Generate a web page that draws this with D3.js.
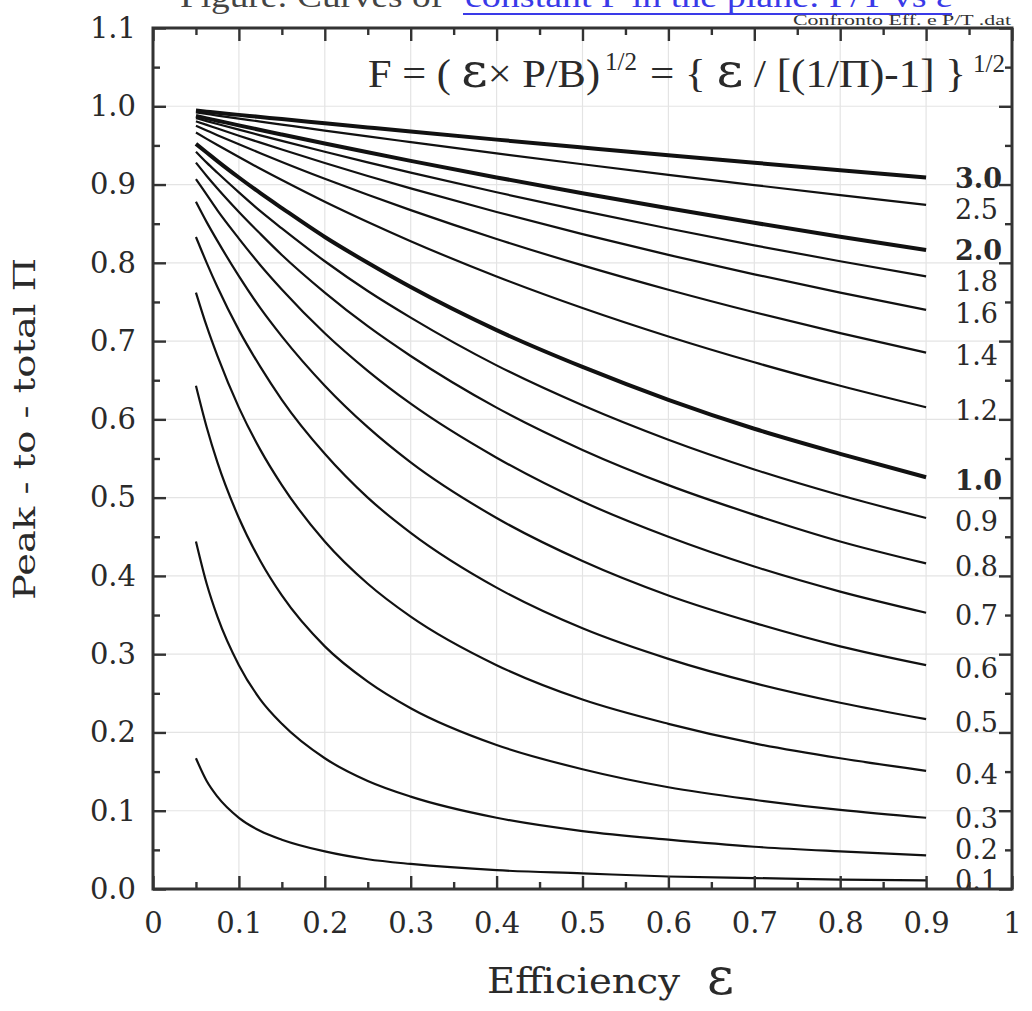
<!DOCTYPE html>
<html><head><meta charset="utf-8">
<script src="https://cdn.jsdelivr.net/npm/d3@7"></script>
<style>html,body{margin:0;padding:0;background:#fff;} svg{display:block;}</style>
</head><body>
<svg id="chart" width="1032" height="1011"></svg>
<script>
// Efficiency values (x) at which each curve was read
const epsilon = [0.05, 0.0625, 0.075, 0.1, 0.125, 0.15, 0.2, 0.25, 0.3, 0.4, 0.5, 0.6, 0.7, 0.8, 0.9];
// Peak-to-total values read for each curve of constant F
const piF01 = [0.167, 0.138, 0.118, 0.091, 0.074, 0.063, 0.048, 0.038, 0.032, 0.024, 0.020, 0.016, 0.014, 0.012, 0.011];
const piF02 = [0.444, 0.390, 0.348, 0.286, 0.242, 0.211, 0.167, 0.138, 0.118, 0.091, 0.074, 0.063, 0.054, 0.048, 0.043];
const piF03 = [0.643, 0.590, 0.545, 0.474, 0.419, 0.375, 0.310, 0.265, 0.231, 0.184, 0.153, 0.130, 0.114, 0.101, 0.091];
const piF04 = [0.762, 0.719, 0.681, 0.615, 0.561, 0.516, 0.444, 0.390, 0.348, 0.286, 0.242, 0.211, 0.186, 0.167, 0.151];
const piF05 = [0.833, 0.800, 0.769, 0.714, 0.667, 0.625, 0.556, 0.500, 0.455, 0.385, 0.333, 0.294, 0.263, 0.238, 0.217];
const piF06 = [0.878, 0.852, 0.828, 0.783, 0.742, 0.706, 0.643, 0.590, 0.545, 0.474, 0.419, 0.375, 0.340, 0.310, 0.286];
const piF07 = [0.907, 0.887, 0.867, 0.831, 0.797, 0.766, 0.710, 0.662, 0.620, 0.551, 0.495, 0.450, 0.412, 0.380, 0.353];
const piF08 = [0.928, 0.911, 0.895, 0.865, 0.837, 0.810, 0.762, 0.719, 0.681, 0.615, 0.561, 0.516, 0.478, 0.444, 0.416];
const piF09 = [0.942, 0.928, 0.915, 0.890, 0.866, 0.844, 0.802, 0.764, 0.730, 0.669, 0.618, 0.574, 0.536, 0.503, 0.474];
const piF10 = [0.952, 0.941, 0.930, 0.909, 0.889, 0.870, 0.833, 0.800, 0.769, 0.714, 0.667, 0.625, 0.588, 0.556, 0.526];
const piF12 = [0.9664, 0.9584, 0.9505, 0.9351, 0.9201, 0.9057, 0.8780, 0.8521, 0.8276, 0.7826, 0.7423, 0.7059, 0.6729, 0.6429, 0.6154];
const piF14 = [0.9751, 0.9691, 0.9631, 0.9515, 0.9401, 0.9289, 0.9074, 0.8869, 0.8673, 0.8305, 0.7967, 0.7656, 0.7368, 0.7101, 0.6853];
const piF16 = [0.9808, 0.9762, 0.9715, 0.9624, 0.9535, 0.9447, 0.9275, 0.9110, 0.8951, 0.8649, 0.8366, 0.8101, 0.7853, 0.7619, 0.7399];
const piF18 = [0.9848, 0.9811, 0.9774, 0.9701, 0.9629, 0.9558, 0.9419, 0.9284, 0.9153, 0.8901, 0.8663, 0.8438, 0.8223, 0.8020, 0.7826];
const piF20 = [0.9877, 0.9846, 0.9816, 0.9756, 0.9697, 0.9639, 0.9524, 0.9412, 0.9302, 0.9091, 0.8889, 0.8696, 0.8511, 0.8333, 0.8163];
const piF25 = [0.9921, 0.9901, 0.9881, 0.9843, 0.9804, 0.9766, 0.9690, 0.9615, 0.9542, 0.9398, 0.9259, 0.9124, 0.8993, 0.8865, 0.8741];
const piF30 = [0.9945, 0.9931, 0.9917, 0.9890, 0.9863, 0.9836, 0.9783, 0.9730, 0.9677, 0.9574, 0.9474, 0.9375, 0.9278, 0.9184, 0.9091];

const curveLabels = ["0.1","0.2","0.3","0.4","0.5","0.6","0.7","0.8","0.9","1.0","1.2","1.4","1.6","1.8","2.0","2.5","3.0"];
const boldCurves = ["1.0","2.0","3.0"];

const xTickValues = [0,0.1,0.2,0.3,0.4,0.5,0.6,0.7,0.8,0.9,1];
const xTickLabels = ["0","0.1","0.2","0.3","0.4","0.5","0.6","0.7","0.8","0.9","1"];
const xMinorTicks = [0.05,0.15,0.25,0.35,0.45,0.55,0.65,0.75,0.85,0.95];
const yTickValues = [0,0.1,0.2,0.3,0.4,0.5,0.6,0.7,0.8,0.9,1.0,1.1];
const yTickLabels = ["0.0","0.1","0.2","0.3","0.4","0.5","0.6","0.7","0.8","0.9","1.0","1.1"];
const yMinorTicks = [0.05,0.15,0.25,0.35,0.45,0.55,0.65,0.75,0.85,0.95,1.05];

const xTitle = "Efficiency";
const xSymbol = "ε";
const yTitle = "Peak - to - total  Π";
const topTitleA = "Figure: Curves of";
const topTitleB = "constant F in the plane: P/T vs ε";
const fileNote = "Confronto Eff. e P/T .dat";

const allCurves = [piF01,piF02,piF03,piF04,piF05,piF06,piF07,piF08,piF09,piF10,piF12,piF14,piF16,piF18,piF20,piF25,piF30];
const series = curveLabels.map((lab,i)=>({label:lab, values:allCurves[i], bold:boldCurves.includes(lab)}));

const W = 1032, H = 1011;
const m = {left:153, right:20, top:28, bottom:122};
const svg = d3.select("#chart");
const x = d3.scaleLinear().domain([0,1]).range([m.left, W-m.right]);
const y = d3.scaleLinear().domain([0,1.1]).range([H-m.bottom, m.top]);
const serif = "'DejaVu Serif', serif";
const times = "'Liberation Serif', 'Times New Roman', serif";
const ink = "#2a2a2a";

// grid
svg.append("g").selectAll("line").data(xTickValues.slice(1,-1)).join("line")
  .attr("x1",d=>x(d)).attr("x2",d=>x(d)).attr("y1",y(0)).attr("y2",y(1.1))
  .attr("stroke","#e4e4e4").attr("stroke-width",1.2);
svg.append("g").selectAll("line").data(yTickValues.slice(1,-1)).join("line")
  .attr("y1",d=>y(d)).attr("y2",d=>y(d)).attr("x1",x(0)).attr("x2",x(1))
  .attr("stroke","#e4e4e4").attr("stroke-width",1.2);

// curves
const line = d3.line().x((d,i)=>x(epsilon[i])).y(d=>y(d)).curve(d3.curveMonotoneX);
svg.append("g").selectAll("path").data(series).join("path")
  .attr("d",d=>line(d.values)).attr("fill","none")
  .attr("stroke","#111").attr("stroke-width",d=>d.bold?4:2.2);

// curve labels: placed next to curve ends, spread apart when crowded
const labelPos = series.map(d=>y(d.values[d.values.length-1])+3);
const minGap = 31, maxY = y(0)-9;
for (let it=0; it<80; it++){
  for (let i=0; i<labelPos.length-1; i++){
    const gap = labelPos[i] - labelPos[i+1];
    if (gap < minGap){
      const s = (minGap-gap)/2;
      labelPos[i] += s; labelPos[i+1] -= s;
    }
  }
  for (let i=0;i<labelPos.length;i++) labelPos[i] = Math.min(labelPos[i], maxY);
}
svg.append("g").selectAll("text").data(series).join("text")
  .attr("x",955).attr("y",(d,i)=>labelPos[i])
  .attr("dy","0.36em")
  .attr("font-family",serif).attr("font-size",27)
  .attr("font-weight",d=>d.bold?"bold":"normal")
  .attr("fill",ink).text(d=>d.label);

// axes helper
function styleAxis(g){
  g.select(".domain").remove();
  g.selectAll(".tick line").attr("stroke","#333").attr("stroke-width",2.4);
  g.selectAll(".tick text").attr("font-family",serif).attr("font-size",29).attr("fill",ink);
}
svg.append("g").attr("transform",`translate(0,${y(0)})`)
  .call(d3.axisBottom(x).tickValues(xTickValues).tickFormat((d,i)=>xTickLabels[i]).tickSizeInner(-13).tickSizeOuter(0).tickPadding(23))
  .call(styleAxis);
svg.append("g").attr("transform",`translate(0,${y(0)})`)
  .call(d3.axisBottom(x).tickValues(xMinorTicks).tickFormat("").tickSizeInner(-7).tickSizeOuter(0))
  .call(styleAxis);
svg.append("g").attr("transform",`translate(0,${y(1.1)})`)
  .call(d3.axisTop(x).tickValues(xTickValues).tickFormat("").tickSizeInner(-13).tickSizeOuter(0))
  .call(styleAxis);
svg.append("g").attr("transform",`translate(0,${y(1.1)})`)
  .call(d3.axisTop(x).tickValues(xMinorTicks).tickFormat("").tickSizeInner(-7).tickSizeOuter(0))
  .call(styleAxis);
svg.append("g").attr("transform",`translate(${x(0)},0)`)
  .call(d3.axisLeft(y).tickValues(yTickValues).tickFormat((d,i)=>yTickLabels[i]).tickSizeInner(-13).tickSizeOuter(0).tickPadding(17))
  .call(styleAxis);
svg.append("g").attr("transform",`translate(${x(0)},0)`)
  .call(d3.axisLeft(y).tickValues(yMinorTicks).tickFormat("").tickSizeInner(-7).tickSizeOuter(0))
  .call(styleAxis);
svg.append("g").attr("transform",`translate(${x(1)},0)`)
  .call(d3.axisRight(y).tickValues(yTickValues).tickFormat("").tickSizeInner(-13).tickSizeOuter(0))
  .call(styleAxis);
svg.append("g").attr("transform",`translate(${x(1)},0)`)
  .call(d3.axisRight(y).tickValues(yMinorTicks).tickFormat("").tickSizeInner(-7).tickSizeOuter(0))
  .call(styleAxis);

// frame
svg.append("rect").attr("x",x(0)).attr("y",y(1.1)).attr("width",x(1)-x(0)).attr("height",y(0)-y(1.1))
  .attr("fill","none").attr("stroke","#333").attr("stroke-width",3);

// axis titles
svg.append("text").attr("x",487).attr("y",993)
  .attr("font-family",serif).attr("font-size",36).attr("fill",ink)
  .attr("textLength",193).attr("lengthAdjust","spacingAndGlyphs").text(xTitle);
svg.append("text").attr("x",707).attr("y",994)
  .attr("font-family",serif).attr("font-size",52).attr("fill",ink).text(xSymbol);
svg.append("text").attr("transform","translate(35,429) rotate(-90)")
  .attr("text-anchor","middle").attr("font-family",serif).attr("font-size",30).attr("fill",ink)
  .attr("textLength",342).attr("lengthAdjust","spacingAndGlyphs").text(yTitle);

// formula
const f1 = svg.append("text").attr("x",368).attr("y",87).attr("font-family",times).attr("font-size",40).attr("fill",ink)
  .attr("textLength",232).attr("lengthAdjust","spacingAndGlyphs");
f1.append("tspan").text("F = ( ");
f1.append("tspan").attr("font-family",serif).attr("font-size",48).text("ε");
f1.append("tspan").text("× P/B)");
svg.append("text").attr("x",605).attr("y",70).attr("font-family",times).attr("font-size",25).attr("fill",ink)
  .attr("textLength",32).attr("lengthAdjust","spacingAndGlyphs").text("1/2");
const f2 = svg.append("text").attr("x",650).attr("y",87).attr("font-family",times).attr("font-size",40).attr("fill",ink)
  .attr("textLength",316).attr("lengthAdjust","spacingAndGlyphs");
f2.append("tspan").text("= { ");
f2.append("tspan").attr("font-family",serif).attr("font-size",48).text("ε");
f2.append("tspan").text(" / [(1/Π)-1] }");
svg.append("text").attr("x",973).attr("y",72).attr("font-family",times).attr("font-size",25).attr("fill",ink)
  .attr("textLength",32).attr("lengthAdjust","spacingAndGlyphs").text("1/2");

// top (cut) title and file note
svg.append("text").attr("x",180).attr("y",7).attr("font-family",times).attr("font-size",32).attr("fill","#444")
  .attr("textLength",263).attr("lengthAdjust","spacingAndGlyphs").text(topTitleA);
svg.append("text").attr("x",465).attr("y",7).attr("font-family",times).attr("font-size",32).attr("fill","#3a3ae8")
  .attr("textLength",487).attr("lengthAdjust","spacingAndGlyphs").text(topTitleB);
svg.append("line").attr("x1",463).attr("x2",952).attr("y1",14).attr("y2",14).attr("stroke","#3a3ae8").attr("stroke-width",2);
svg.append("text").attr("x",793).attr("y",25).attr("font-family",times).attr("font-size",14).attr("fill","#333")
  .attr("textLength",218).attr("lengthAdjust","spacingAndGlyphs").text(fileNote);
</script>
</body></html>
